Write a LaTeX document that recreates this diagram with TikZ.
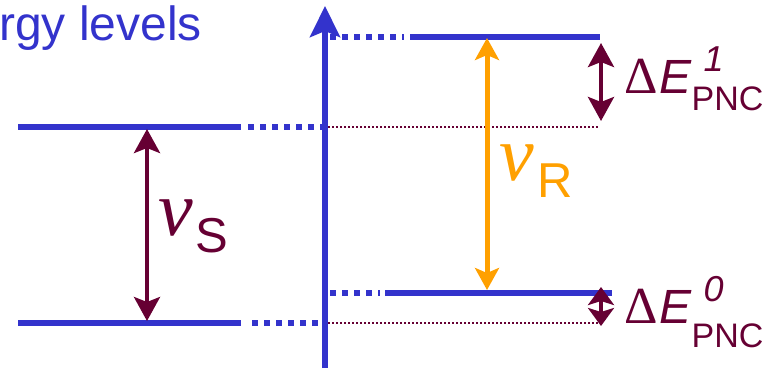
\documentclass[tikz,border=0pt]{standalone}
\usepackage{fontspec}
\setmainfont{Liberation Sans}
\newfontfamily\serifgr{Liberation Serif}
\usetikzlibrary{arrows.meta}
\definecolor{lvblue}{RGB}{51,51,204}
\definecolor{mrn}{RGB}{102,0,51}
\definecolor{orng}{RGB}{255,160,0}
\tikzset{
  level/.style={lvblue, line width=6pt},
  leveldots/.style={lvblue, line width=6pt, dash pattern=on 6pt off 6pt},
  guide/.style={mrn, line width=1.2pt, dash pattern=on 1.5pt off 2.5pt},
  dblarrow/.style={mrn, line width=4pt, {Stealth[length=24pt,width=26pt,inset=5pt]}-{Stealth[length=24pt,width=26pt,inset=5pt]}},
  smallarrow/.style={mrn, line width=4pt, {Stealth[length=18pt,width=26pt,inset=4pt]}-{Stealth[length=18pt,width=26pt,inset=4pt]}},
  orarrow/.style={orng, line width=5pt, {Stealth[length=22pt,width=24pt,inset=5pt]}-{Stealth[length=22pt,width=24pt,inset=5pt]}},
  lbl/.style={inner sep=0pt, anchor=base west},
}
\newcommand{\nuglyph}{{\serifgr\itshape\fontsize{78}{78}\selectfont ν}}
\newcommand{\dEglyph}{{\serifgr\fontsize{52}{52}\selectfont Δ}\kern2pt{\fontsize{48}{48}\selectfont\itshape E}}
\begin{document}
\begin{tikzpicture}[x=1pt,y=-1pt]
\useasboundingbox (0,0) rectangle (778,368);
% title
\node[lbl, text=lvblue, font=\fontsize{48}{48}\selectfont] (title) at (-1,40) {rgy levels};
% coordinates
\coordinate (lu1) at (18,127);  \coordinate (lu2) at (241,127);
\coordinate (lu3) at (248,127); \coordinate (lu4) at (326,127);
\coordinate (ll1) at (18,323);  \coordinate (ll2) at (241,323);
\coordinate (ll3) at (252,323); \coordinate (ll4) at (326,323);
\coordinate (ax0) at (325,368); \coordinate (ax1) at (325,6);
\coordinate (ru1) at (330,37);  \coordinate (ru2) at (404,37);
\coordinate (ru3) at (410,37);  \coordinate (ru4) at (600,37);
\coordinate (rl1) at (330,293); \coordinate (rl2) at (380,293);
\coordinate (rl3) at (385,293); \coordinate (rl4) at (612,293);
\coordinate (gu1) at (328,127); \coordinate (gu2) at (598,127);
\coordinate (gl1) at (328,323); \coordinate (gl2) at (598,323);
\coordinate (s1) at (147,129);  \coordinate (s2) at (147,321);
\coordinate (r1) at (487,38);   \coordinate (r2) at (487,290);
\coordinate (e1a) at (601,43);  \coordinate (e1b) at (601,121);
\coordinate (e0a) at (601,287); \coordinate (e0b) at (601,326);
% levels
\draw[level] (lu1) -- (lu2);
\draw[leveldots] (lu3) -- (lu4);
\draw[level] (ll1) -- (ll2);
\draw[leveldots] (ll3) -- (ll4);
\draw[leveldots] (ru1) -- (ru2);
\draw[level] (ru3) -- (ru4);
\draw[leveldots] (rl1) -- (rl2);
\draw[level] (rl3) -- (rl4);
\draw[guide] (gu1) -- (gu2);
\draw[guide] (gl1) -- (gl2);
% axis
\draw[lvblue, line width=6pt, -{Stealth[length=31pt,width=30pt,inset=6pt]}] (ax0) -- (ax1);
% arrows
\draw[dblarrow] (s1) -- (s2);
\draw[orarrow] (r1) -- (r2);
\draw[dblarrow] (e1a) -- (e1b);
\draw[smallarrow] (e0a) -- (e0b);
% labels
\node[lbl, text=mrn] (nus) at (158,235) {\nuglyph\kern3pt\raisebox{-17pt}{\fontsize{49}{49}\selectfont S}};
\node[lbl, text=orng] (nur) at (499,180) {\nuglyph\kern4pt\raisebox{-17pt}{\fontsize{49}{49}\selectfont R}};
\node[lbl, text=mrn] (de1) at (624,93) {\dEglyph\rlap{\raisebox{22pt}{\fontsize{36}{36}\selectfont\itshape\kern12pt 1}}\kern0pt\raisebox{-17pt}{\fontsize{34}{34}\selectfont PNC}};
\node[lbl, text=mrn] (de0) at (624,323) {\dEglyph\rlap{\raisebox{22pt}{\fontsize{36}{36}\selectfont\itshape\kern12pt 0}}\kern0pt\raisebox{-24pt}{\fontsize{34}{34}\selectfont PNC}};
\end{tikzpicture}
\end{document}
